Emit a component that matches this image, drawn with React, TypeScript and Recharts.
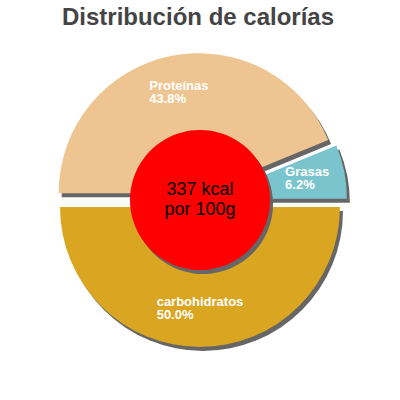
import React from "react";
import { PieChart, Pie, Cell } from "recharts";

const names = ["Grasas", "Proteínas", "carbohidratos"];
const shares = [6.2, 43.8, 50.0];
const colors = ["#7AC5CD", "#EEC591", "#DAA520"];
const kcalLines = ["337 kcal", "por 100g"];
const title = "Distribución de calorías";

const data = names.map((name, i) => ({ name, value: shares[i] }));
const centerData = [{ name: "kcal", value: 1 }];

const CX = 200;
const CY = 200;
const RADIUS = 140;
const INNER = 70;
const EXPLODE = 7;
const SHADOW_DX = 3;
const SHADOW_DY = 4;
const RAD = Math.PI / 180;
const FONT = "'Liberation Sans', Arial, sans-serif";

// mid angle of each slice, used to push slices out
const total = shares.reduce((a, b) => a + b, 0);
const midAngles = shares.map((v, i) => {
  const before = shares.slice(0, i).reduce((a, b) => a + b, 0);
  return ((before + v / 2) / total) * 360;
});

let ctx: CanvasRenderingContext2D | null = null;
function textWidth(s: string) {
  if (!ctx) ctx = document.createElement("canvas").getContext("2d");
  if (!ctx) return s.length * 7;
  ctx.font = "bold 13px 'Liberation Sans'";
  return ctx.measureText(s).width;
}

const makeLabel = (target: number) => (props: any) => {
  if (props.index !== target) return null;
  const { cx, cy, midAngle, outerRadius, name, value } = props;
  const r = outerRadius * 0.73;
  const x = cx + r * Math.cos(-midAngle * RAD);
  const y = cy + r * Math.sin(-midAngle * RAD);
  const pct = `${Number(value).toFixed(1)}%`;
  const w = Math.max(textWidth(name), textWidth(pct));
  const left = x - w / 2;
  return (
    <text x={left} y={y - 3} fill="#fff" fontSize={13} fontWeight="bold" fontFamily={FONT}>
      <tspan x={left}>{name}</tspan>
      <tspan x={left} dy={13}>{pct}</tspan>
    </text>
  );
};

function offset(i: number) {
  return {
    x: CX + EXPLODE * Math.cos(midAngles[i] * RAD),
    y: CY - EXPLODE * Math.sin(midAngles[i] * RAD),
  };
}

export default function App() {
  return (
    <div style={{ position: "absolute", left: 0, top: 0, width: 400, height: 400, background: "#fff" }}>
      <PieChart width={400} height={400} margin={{ top: 0, right: 0, bottom: 0, left: 0 }}>
        {names.map((_, t) => {
          const o = offset(t);
          return (
            <Pie
              key={`shadow-${t}`}
              data={data}
              dataKey="value"
              cx={o.x + SHADOW_DX}
              cy={o.y + SHADOW_DY}
              outerRadius={RADIUS}
              startAngle={0}
              endAngle={360}
              stroke="none"
              isAnimationActive={false}
            >
              {data.map((_, i) => (
                <Cell key={i} fill={i === t ? "#666666" : "none"} />
              ))}
            </Pie>
          );
        })}
        {names.map((_, t) => {
          const o = offset(t);
          return (
            <Pie
              key={`slice-${t}`}
              data={data}
              dataKey="value"
              cx={o.x}
              cy={o.y}
              outerRadius={RADIUS}
              startAngle={0}
              endAngle={360}
              stroke="none"
              label={makeLabel(t)}
              labelLine={false}
              isAnimationActive={false}
            >
              {data.map((_, i) => (
                <Cell key={i} fill={i === t ? colors[i] : "none"} />
              ))}
            </Pie>
          );
        })}
        <Pie
          data={centerData}
          dataKey="value"
          cx={CX + SHADOW_DX}
          cy={CY + SHADOW_DY}
          outerRadius={INNER}
          stroke="none"
          fill="#666666"
          isAnimationActive={false}
        />
        <Pie
          data={centerData}
          dataKey="value"
          cx={CX}
          cy={CY}
          outerRadius={INNER}
          stroke="none"
          fill="#ff0000"
          isAnimationActive={false}
        />
      </PieChart>
      <svg
        width={400}
        height={400}
        style={{ position: "absolute", left: 0, top: 0, pointerEvents: "none" }}
      >
        <text x={198} y={25} textAnchor="middle" fontSize={24} fontWeight="bold" fill="#444444" fontFamily={FONT}>
          {title}
        </text>
        <text x={CX} y={195} textAnchor="middle" fontSize={18} fill="#000" fontFamily={FONT}>
          {kcalLines[0]}
        </text>
        <text x={CX} y={215} textAnchor="middle" fontSize={18} fill="#000" fontFamily={FONT}>
          {kcalLines[1]}
        </text>
      </svg>
    </div>
  );
}
